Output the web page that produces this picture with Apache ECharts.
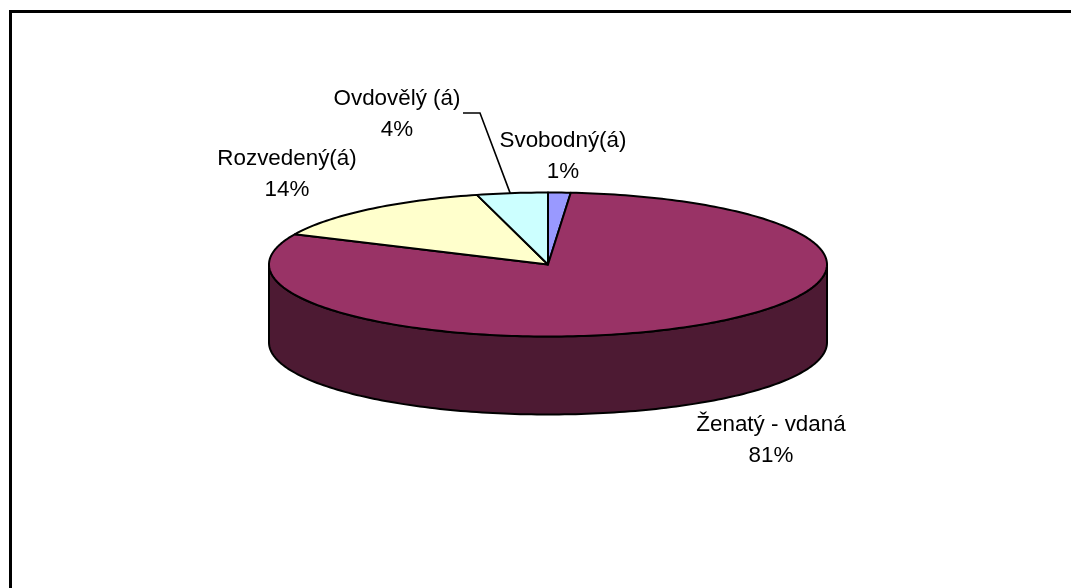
<!DOCTYPE html>
<html><head><meta charset="utf-8">
<style>html,body{margin:0;padding:0;background:#fff}#c{width:1071px;height:588px}</style>
<script src="https://cdn.jsdelivr.net/npm/echarts@6/dist/echarts.min.js"></script>
</head><body><div id="c"></div>
<script>
const categories = ['Svobodný(á)', 'Ženatý - vdaná', 'Rozvedený(á)', 'Ovdovělý (á)'];
const shares = [1.3, 80.6, 14.0, 4.1];
const percentLabels = ['1%', '81%', '14%', '4%'];
const topColors = ['#9999FF', '#993366', '#FFFFCC', '#CCFFFF'];
const sideColors = ['#4D4D80', '#4D1A33', '#808066', '#668080'];

const CX = 548, CY = 264.5, RX = 279, RY = 72, DEPTH = 78;
const labelPos = [[563, 156], [771, 440], [287, 174], [397, 114]];
const leader = [null, null, null, [[463, 113], [480, 113]]];
const total = shares.reduce((a, b) => a + b, 0);
const pt = (a, dy) => [CX + RX * Math.sin(a), CY - RY * Math.cos(a) + (dy || 0)];

function arc(a0, a1, dy) {
  const n = Math.max(2, Math.ceil((a1 - a0) / 0.02)), p = [];
  for (let i = 0; i <= n; i++) p.push(pt(a0 + (a1 - a0) * i / n, dy));
  return p;
}
let acc = 0;
const spans = shares.map(v => { const s = acc; acc += v; return [s / total * 2 * Math.PI, acc / total * 2 * Math.PI]; });

function renderItem(params, api) {
  const i = params.dataIndex, [a0, a1] = spans[i], children = [];
  const stroke = { stroke: '#000', lineWidth: 2, lineJoin: 'round' };
  const s0 = Math.max(a0, Math.PI / 2), s1 = Math.min(a1, Math.PI * 1.5);
  if (s1 > s0) {
    const top = arc(s0, s1), bot = arc(s0, s1, DEPTH).reverse();
    children.push({ type: 'polygon', z2: 1, shape: { points: top.concat(bot) },
      style: Object.assign({ fill: sideColors[i] }, stroke) });
  }
  children.push({ type: 'polygon', z2: 2, shape: { points: [[CX, CY]].concat(arc(a0, a1)) },
    style: Object.assign({ fill: topColors[i] }, stroke) });
  if (leader[i]) {
    const m = pt((a0 + a1) / 2);
    children.push({ type: 'polyline', z2: 3, shape: { points: leader[i].concat([[m[0] - 2, m[1]]]) },
      style: { stroke: '#000', lineWidth: 1.6, fill: null } });
  }
  children.push({ type: 'text', z2: 4, x: labelPos[i][0], y: labelPos[i][1],
    style: { text: categories[i] + '\n' + percentLabels[i], fill: '#000', align: 'center', verticalAlign: 'middle',
      font: '22.4px "Liberation Sans", Arial, sans-serif', lineHeight: 31 } });
  return { type: 'group', children };
}

const chart = echarts.init(document.getElementById('c'), null, { renderer: 'canvas' });
chart.setOption({
  animation: false,
  backgroundColor: '#fff',
  graphic: [{ type: 'polyline', silent: true, shape: { points: [[10.5, 588], [10.5, 11.5], [1071, 11.5]] },
    style: { stroke: '#000', lineWidth: 3, fill: null } }],
  series: [{ type: 'custom', coordinateSystem: 'none', renderItem,
    data: categories.map((c, i) => ({ name: c, value: shares[i] })) }]
});
</script></body></html>
